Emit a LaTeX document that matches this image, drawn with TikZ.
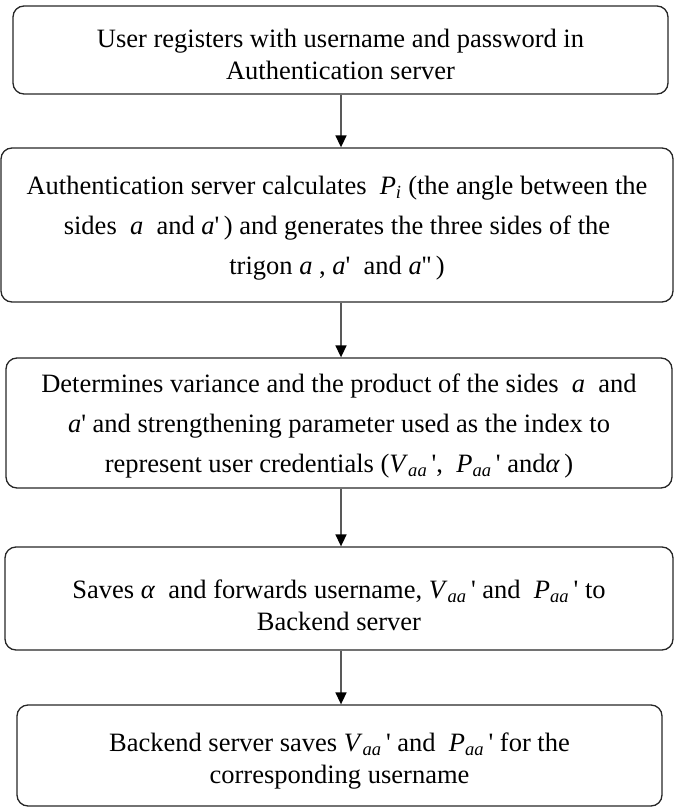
\documentclass[tikz,border=0pt]{standalone}
\usepackage{fontspec}
\setmainfont{Liberation Serif}
\usetikzlibrary{arrows.meta}
\newcommand{\iv}[1]{\textit{#1}}
\newcommand{\qs}{\textquotesingle}
\newcommand{\Vaa}{\textit{V}\textsubscript{\textit{aa}}}
\newcommand{\Paa}{\textit{P}\textsubscript{\textit{aa}}}
\begin{document}
\begin{tikzpicture}[x=1pt,y=-1pt,
  stepbox/.style={draw=black!85, line width=1.3pt, rounded corners=11pt, inner sep=0pt},
  lbl/.style={align=center, inner sep=0pt, font=\fontsize{26.5}{32}\selectfont},
  lbltall/.style={lbl, font=\fontsize{26.5}{40}\selectfont},
  arr/.style={draw=black!65, line width=1.6pt,
    -{Triangle[length=12pt,width=11pt,fill=black,color=black]}}]
\useasboundingbox (0,0) rectangle (674,810);
\node[stepbox, minimum width=655pt, minimum height=88pt] (b1) at (340.5,50) {};
\node[stepbox, minimum width=672pt, minimum height=154pt] (b2) at (337,225) {};
\node[stepbox, minimum width=666pt, minimum height=130pt] (b3) at (339,423) {};
\node[stepbox, minimum width=668pt, minimum height=103pt] (b4) at (339,598.5) {};
\node[stepbox, minimum width=645pt, minimum height=101pt] (b5) at (339.5,755.5) {};
\node[lbl] (t1) at ([yshift=-4pt]b1.center)
  {User registers with username and password in\\Authentication server};
\node[lbltall] (t2) at ([yshift=-3pt]b2.center)
  {Authentication server calculates \ \iv{P}\textsubscript{\iv{i}} (the angle between the\\
   sides \ \iv{a} \ and \iv{a}\qs\,) and generates the three sides of the\\
   trigon \iv{a} , \iv{a}\qs\ \ and \iv{a}\qs\qs\,)};
\node[lbltall] (t3) at ([yshift=-3pt]b3.center)
  {Determines variance and the product of the sides \ \iv{a} \ and\\
   \iv{a}\qs\ and strengthening parameter used as the index to\\
   represent user credentials (\Vaa\,\qs,\ \ \Paa\,\qs\ and\iv{α}\,)};
\node[lbl] (t4) at ([yshift=-7pt]b4.center)
  {Saves \iv{α} \ and forwards username, \Vaa\,\qs\ and \ \Paa\,\qs\ to\\Backend server};
\node[lbl] (t5) at ([yshift=-6pt]b5.center)
  {Backend server saves \Vaa\,\qs\ and \ \Paa\,\qs\ for the\\corresponding username};
\coordinate (ax) at (341,0);
\draw[arr] (b1.south -| ax) -- (b2.north -| ax);
\draw[arr] (b2.south -| ax) -- (b3.north -| ax);
\draw[arr] (b3.south -| ax) -- (b4.north -| ax);
\draw[arr] (b4.south -| ax) -- (b5.north -| ax);
\end{tikzpicture}
\end{document}
